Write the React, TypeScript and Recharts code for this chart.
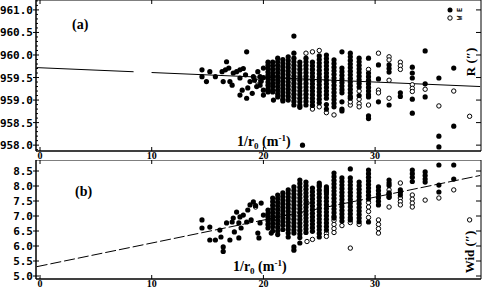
import React from 'react';
import { ScatterChart, Scatter, XAxis, YAxis, ReferenceArea } from 'recharts';

// x = 1/r0 (m^-1)
const xTicks = [0, 10, 20, 30];

const rTicks = [958.0, 958.5, 959.0, 959.5, 960.0, 960.5, 961.0];
const rMinorTicks = [
  957.9, 958.0, 958.1, 958.2, 958.3, 958.4, 958.5, 958.6, 958.7, 958.8, 958.9,
  959.0, 959.1, 959.2, 959.3, 959.4, 959.5, 959.6, 959.7, 959.8, 959.9,
  960.0, 960.1, 960.2, 960.3, 960.4, 960.5, 960.6, 960.7, 960.8, 960.9,
  961.0, 961.1, 961.2,
];
const widTicks = [5.0, 5.5, 6.0, 6.5, 7.0, 7.5, 8.0, 8.5];

// panel (a): R (")
const rEastSparse: [number, number][] = [
  [14.5, 959.67], [14.5, 959.52], [14.9, 959.41], [15.2, 959.63], [15.7, 959.52],
  [16.3, 959.63], [16.4, 959.41], [16.7, 959.85], [16.6, 959.67], [16.9, 959.71],
  [17.0, 959.41], [17.2, 959.33], [17.3, 959.6], [17.6, 959.63], [17.9, 959.67],
  [17.9, 959.49], [18.1, 959.22], [17.9, 959.11], [18.4, 959.56], [18.5, 960.07],
  [18.6, 959.27], [18.5, 959.04], [18.8, 959.41], [19.1, 959.52], [19.2, 959.44],
  [19.5, 959.63], [19.7, 959.52], [19.7, 959.33], [20.0, 959.71], [20.0, 959.22],
  [20.0, 959.11], [20.0, 959.5], [19.4, 959.3], [19.0, 959.15], [18.2, 959.7],
  [19.8, 959.42], [20.9, 959.0], [23.5, 958.0],
];
const rEastCols: [number, number[]][] = [
  [20.41, [959.84, 959.77, 959.7, 959.62, 959.55, 959.48, 959.4, 959.33, 959.25, 959.18]],
  [20.83, [959.84, 959.76, 959.68, 959.6, 959.53, 959.45, 959.37, 959.3, 959.22, 959.18]],
  [21.28, [959.93, 959.85, 959.77, 959.69, 959.61, 959.53, 959.45, 959.38, 959.3, 959.22, 959.14, 959.07]],
  [21.74, [959.9, 959.82, 959.74, 959.66, 959.58, 959.5, 959.42, 959.34, 959.26, 959.18, 959.1, 959.02, 958.98]],
  [22.22, [959.96, 959.88, 959.8, 959.72, 959.64, 959.56, 959.48, 959.4, 959.32, 959.24, 959.16, 959.08, 959.0]],
  [22.73, [960.42, 960.04, 959.93, 959.85, 959.77, 959.69, 959.61, 959.53, 959.45, 959.37, 959.29, 959.21, 959.13, 959.05, 958.97, 958.89]],
  [23.26, [959.84, 959.76, 959.68, 959.6, 959.52, 959.44, 959.36, 959.28, 959.2, 959.12, 959.04, 958.96, 958.88, 958.84]],
  [23.81, [959.93, 959.85, 959.77, 959.69, 959.61, 959.53, 959.45, 959.37, 959.29, 959.21, 959.13, 959.05, 958.97, 958.89]],
  [24.39, [959.84, 959.76, 959.68, 959.6, 959.52, 959.44, 959.36, 959.28, 959.2, 959.12, 959.04, 958.96, 958.88]],
  [25.0, [959.98, 959.9, 959.82, 959.74, 959.66, 959.58, 959.5, 959.42, 959.34, 959.26, 959.18, 959.1, 959.02, 958.94]],
  [25.64, [960.0, 959.92, 959.84, 959.76, 959.68, 959.6, 959.52, 959.44, 959.36, 959.28, 959.2, 959.12, 959.04, 958.9, 958.8]],
  [26.32, [959.89, 959.81, 959.73, 959.65, 959.57, 959.49, 959.41, 959.33, 959.25, 959.17, 959.09, 959.01, 958.93, 958.85]],
  [27.03, [960.07, 959.71, 959.63, 959.55, 959.47, 959.39, 959.31, 959.23, 959.16, 958.96, 958.8, 958.76]],
  [27.78, [960.04, 959.96, 959.88, 959.8, 959.72, 959.64, 959.56, 959.48, 959.4, 959.32, 959.24, 959.16, 959.08, 959.04]],
  [28.57, [959.93, 959.85, 959.77, 959.69, 959.61, 959.53, 959.45, 959.37, 959.29, 959.1]],
  [29.41, [959.93, 959.6, 959.52, 959.44, 959.36, 959.28, 959.2, 959.12, 959.07, 958.65, 958.59]],
  [30.3, [959.78, 959.47, 958.96]],
  [31.25, [959.78, 959.7, 959.62, 958.89]],
  [32.26, [959.16, 959.08]],
  [33.33, [959.73, 959.6, 959.49, 959.02, 958.71]],
  [34.48, [960.09, 959.36, 959.07]],
  [35.71, [959.49, 958.2, 957.96]],
  [37.04, [959.71, 958.42]],
];
const rWestCols: [number, number[]][] = [
  [19.4, [959.42]],
  [23.81, [960.04]],
  [24.39, [960.07, 958.8]],
  [25.0, [960.1, 958.85]],
  [25.64, [958.72]],
  [26.32, [958.67]],
  [27.78, [958.89, 958.96]],
  [28.57, [959.2, 959.02, 958.92, 958.85]],
  [29.41, [959.68, 958.89]],
  [30.3, [960.04, 959.22, 959.16]],
  [31.25, [959.96, 959.89, 959.44, 959.04]],
  [32.26, [959.84, 959.76, 959.68]],
  [33.33, [959.34, 959.26, 959.19]],
  [34.48, [959.24]],
  [35.71, [958.87]],
  [37.04, [959.2]],
  [38.46, [958.64]],
];
const rFit: [number, number][] = [[-0.3, 959.72], [39.4, 959.3]];

// panel (b): Wid (")
const widEastSparse: [number, number][] = [
  [14.5, 6.87], [14.5, 6.6], [15.2, 6.63], [15.2, 6.2], [15.7, 6.2], [16.1, 6.53],
  [16.2, 6.3], [16.4, 5.97], [16.4, 5.82], [16.7, 6.77], [17.0, 6.2], [17.2, 6.8],
  [17.3, 6.93], [17.4, 6.47], [17.6, 7.13], [17.8, 6.77], [17.9, 6.97], [18.0, 6.6],
  [17.8, 6.27], [18.2, 7.03], [18.5, 6.8], [18.6, 7.2], [18.8, 7.37], [18.9, 6.87],
  [19.1, 7.47], [19.3, 7.35], [19.5, 6.43], [19.7, 6.77], [19.8, 7.43], [20.0, 7.03],
  [19.6, 6.27], [20.7, 6.43],
];
const widEastCols: [number, number[]][] = [
  [20.41, [7.2, 7.08, 6.96, 6.84, 6.72, 6.6]],
  [20.83, [7.6, 7.48, 7.36, 7.24, 7.12, 7.0, 6.88, 6.76, 6.64, 6.5]],
  [21.28, [7.7, 7.58, 7.46, 7.34, 7.22, 7.1, 6.98, 6.86, 6.74, 6.62, 6.5, 6.38]],
  [21.74, [7.77, 7.65, 7.53, 7.41, 7.29, 7.17, 7.05, 6.93, 6.81, 6.69, 6.55]],
  [22.22, [7.87, 7.75, 7.63, 7.51, 7.39, 7.27, 7.15, 7.03, 6.91, 6.79, 6.67, 6.55, 6.43, 6.3]],
  [22.73, [7.97, 7.85, 7.73, 7.61, 7.49, 7.37, 7.25, 7.13, 7.01, 6.89, 6.77, 6.65, 6.53, 6.43, 5.97, 5.86]],
  [23.26, [8.2, 8.08, 7.96, 7.84, 7.72, 7.6, 7.48, 7.36, 7.24, 7.12, 7.0, 6.88, 6.76, 6.64, 6.52, 6.4, 6.28, 6.1]],
  [23.81, [8.13, 8.01, 7.89, 7.77, 7.65, 7.53, 7.41, 7.29, 7.17, 7.05, 6.93, 6.81, 6.69, 6.57, 6.45]],
  [24.39, [7.93, 7.81, 7.69, 7.57, 7.45, 7.33, 7.21, 7.09, 6.97, 6.85, 6.73, 6.61, 6.49]],
  [25.0, [8.1, 7.98, 7.86, 7.74, 7.62, 7.5, 7.38, 7.26, 7.14, 7.02, 6.9, 6.78, 6.66, 6.54, 6.42, 6.3]],
  [25.64, [7.97, 7.85, 7.73, 7.61, 7.49, 7.37, 7.25, 7.13, 7.01, 6.89, 6.77, 6.65, 6.53]],
  [26.32, [8.43, 8.31, 8.19, 8.07, 7.95, 7.83, 7.71, 7.59, 7.47, 7.35, 7.23, 7.11, 6.99, 6.93]],
  [27.03, [8.27, 8.15, 8.03, 7.91, 7.79, 7.67, 7.55, 7.43, 7.31, 7.19, 7.07, 6.95, 6.83]],
  [27.78, [8.57, 8.27, 8.15, 8.03, 7.91, 7.79, 7.67, 7.55, 7.43, 7.31, 7.19, 7.07, 6.95, 6.87]],
  [28.57, [8.13, 8.01, 7.89, 7.77, 7.65, 7.53, 7.41, 7.29, 7.17, 7.05, 6.93, 6.81]],
  [29.41, [8.53, 8.41, 8.29, 8.17, 8.05, 7.93, 7.81, 7.69, 7.57, 6.8]],
  [30.3, [7.97, 7.85, 7.73, 7.61, 7.49, 7.37]],
  [31.25, [8.2, 8.1, 8.02, 7.77, 7.7, 7.63]],
  [32.26, [7.87, 7.79, 7.7]],
  [33.33, [8.53, 8.41, 8.29, 8.15]],
  [34.48, [8.47, 8.35, 8.23, 8.13]],
  [35.71, [8.7, 8.03, 7.8]],
  [37.04, [8.7, 8.23]],
];
const widWestCols: [number, number[]][] = [
  [19.3, [7.3]],
  [23.9, [7.43, 6.15]],
  [24.39, [6.22]],
  [25.0, [8.03]],
  [25.64, [7.9, 7.8, 6.42, 6.32]],
  [26.32, [6.85, 6.72, 6.58, 6.45]],
  [27.03, [6.68]],
  [27.78, [5.93, 6.78]],
  [28.57, [6.72]],
  [29.41, [7.45, 7.3, 7.15, 6.95]],
  [30.3, [6.87, 6.72, 6.58, 6.43]],
  [31.25, [7.87, 7.74, 7.62, 7.3]],
  [32.26, [8.1, 7.6, 7.48, 7.37]],
  [33.33, [7.7, 7.56, 7.43, 7.3]],
  [34.48, [7.53]],
  [35.71, [7.6]],
  [37.04, [7.87]],
  [38.46, [6.87]],
];
const widFit: [number, number][] = [[-0.3, 5.31], [39.4, 8.35]];

const X_DOMAIN: [number, number] = [-0.36, 39.48];
const R_DOMAIN: [number, number] = [957.87, 961.22];
const WID_DOMAIN: [number, number] = [4.9, 8.867];

const pairs = (list: [number, number][]) => list.map(([x, y]) => ({ x, y }));
const cols = (list: [number, number[]][]) => list.flatMap(([x, ys]) => ys.map((y) => ({ x, y })));

const FilledDot = (p: any) => <circle cx={p.cx} cy={p.cy} r={2.6} fill="#000" />;
const OpenDot = (p: any) => <circle cx={p.cx} cy={p.cy} r={2.2} fill="#fff" stroke="#000" strokeWidth={1} />;
const NoDot = () => <g />;

const monoFont = '"DejaVu Sans Mono", monospace';
const serifFont = '"Liberation Serif", "Times New Roman", serif';

const XTick = (props: any) => {
  const { x, payload, bottom } = props;
  return (
    <g>
      <line x1={x} x2={x} y1={bottom} y2={bottom - 4} stroke="#000" />
      <line x1={x} x2={x} y1={0} y2={4} stroke="#000" />
      <text x={x} y={bottom + 8} textAnchor="middle" fontFamily={serifFont} fontWeight="bold" fontSize={10} fill="#000">
        {payload.value}
      </text>
    </g>
  );
};

const YTick = (props: any) => {
  const { y, payload, majors } = props;
  const v = payload.value as number;
  const major = majors.some((m: number) => Math.abs(m - v) < 1e-6);
  if (!major) {
    return <line x1={36} x2={38} y1={y} y2={y} stroke="#000" />;
  }
  return (
    <g>
      <line x1={33} x2={39} y1={y} y2={y} stroke="#000" />
      <line x1={476} x2={481} y1={y} y2={y} stroke="#000" />
      <text x={33} y={y + 4} textAnchor="end" fontFamily={monoFont} fontWeight="bold" fontSize={11} fill="#000">
        {v.toFixed(1)}
      </text>
    </g>
  );
};

interface PanelProps {
  height: number;
  yDomain: [number, number];
  yTicks: number[];
  yMajors: number[];
  east: { x: number; y: number }[];
  west: { x: number; y: number }[];
  fit: { x: number; y: number }[];
  dash: string;
}

const Panel: React.FC<PanelProps> = ({ height, yDomain, yTicks, yMajors, east, west, fit, dash }) => {
  const bottom = height - 9;
  return (
    <ScatterChart width={482} height={height} margin={{ top: 0, right: 1, bottom: 0, left: 0 }}>
      <XAxis
        type="number"
        dataKey="x"
        domain={X_DOMAIN}
        ticks={xTicks}
        interval={0}
        height={9}
        allowDataOverflow
        tickLine={false}
        axisLine={{ stroke: '#000' }}
        tick={(p: any) => <XTick {...p} bottom={bottom} />}
      />
      <YAxis
        type="number"
        dataKey="y"
        domain={yDomain}
        ticks={yTicks}
        interval={0}
        width={36}
        allowDataOverflow
        tickLine={false}
        axisLine={{ stroke: '#000' }}
        tick={(p: any) => <YTick {...p} majors={yMajors} />}
      />
      <ReferenceArea x1={X_DOMAIN[0]} x2={X_DOMAIN[1]} y1={yDomain[0]} y2={yDomain[1]} fill="none" stroke="#000" strokeWidth={1} />
      <Scatter
        data={fit}
        shape={NoDot}
        line={{ stroke: '#000', strokeWidth: 1, strokeDasharray: dash }}
        isAnimationActive={false}
      />
      <Scatter data={west} shape={OpenDot} isAnimationActive={false} />
      <Scatter data={east} shape={FilledDot} isAnimationActive={false} />
    </ScatterChart>
  );
};

const labelStyle = { fontFamily: serifFont, fontWeight: 'bold' as const, fill: '#000' };

export default function App() {
  return (
    <div style={{ position: 'absolute', left: 0, top: 0, width: 482, height: 288, background: '#fff' }}>
      <div style={{ position: 'absolute', left: 0, top: 0 }}>
        <Panel
          height={160}
          yDomain={R_DOMAIN}
          yTicks={rMinorTicks}
          yMajors={rTicks}
          east={[...pairs(rEastSparse), ...cols(rEastCols)]}
          west={cols(rWestCols)}
          fit={pairs(rFit)}
          dash="97 18 600"
        />
      </div>
      <div style={{ position: 'absolute', left: 0, top: 160 }}>
        <Panel
          height={128}
          yDomain={WID_DOMAIN}
          yTicks={widTicks}
          yMajors={widTicks}
          east={[...pairs(widEastSparse), ...cols(widEastCols)]}
          west={cols(widWestCols)}
          fit={pairs(widFit)}
          dash="11 3"
        />
      </div>
      <svg width={482} height={288} style={{ position: 'absolute', left: 0, top: 0, pointerEvents: 'none' }}>
        <text x={72} y={29} fontSize={14} {...labelStyle}>(a)</text>
        <text x={75} y={196} fontSize={14} {...labelStyle}>(b)</text>
        <text x={237} y={146} fontSize={14} {...labelStyle}>
          1/r<tspan fontSize={9} dy={3}>0</tspan>
          <tspan dy={-3}> (m</tspan>
          <tspan fontSize={9} dy={-5}>-1</tspan>
          <tspan dy={5}>)</tspan>
        </text>
        <text x={233} y={271} fontSize={14} {...labelStyle}>
          1/r<tspan fontSize={9} dy={3}>0</tspan>
          <tspan dy={-3}> (m</tspan>
          <tspan fontSize={9} dy={-5}>-1</tspan>
          <tspan dy={5}>)</tspan>
        </text>
        <text x={475} y={62} fontSize={13} textAnchor="middle" transform="rotate(-90 475 62)" {...labelStyle}>R (″)</text>
        <text x={474} y={252} fontSize={13} textAnchor="middle" transform="rotate(-90 474 252)" {...labelStyle}>Wid (″)</text>
        <circle cx={450} cy={10} r={2.5} fill="#000" />
        <circle cx={450} cy={18} r={2.2} fill="#fff" stroke="#000" />
        <text x={462} y={10} fontSize={7} textAnchor="middle" transform="rotate(-90 462 10)" fontFamily={monoFont} fontWeight="bold">E</text>
        <text x={462} y={18} fontSize={7} textAnchor="middle" transform="rotate(-90 462 18)" fontFamily={monoFont} fontWeight="bold">W</text>
      </svg>
    </div>
  );
}
